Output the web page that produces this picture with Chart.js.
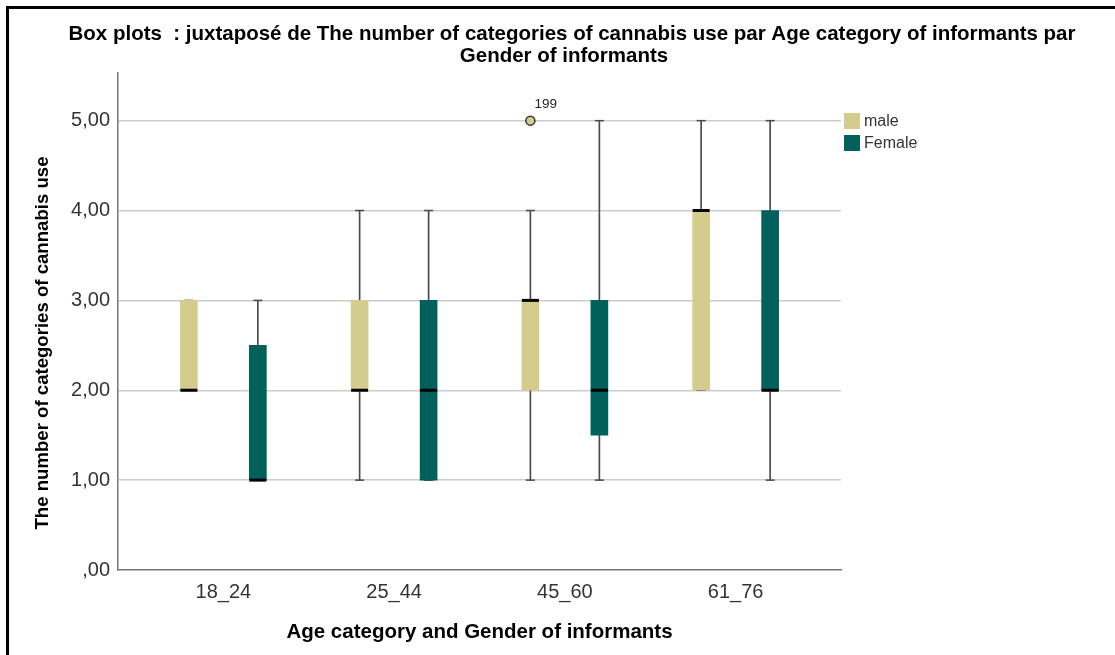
<!DOCTYPE html>
<html>
<head>
<meta charset="utf-8">
<script src="https://cdn.jsdelivr.net/npm/chart.js@4/dist/chart.umd.min.js"></script>
<style>
  html, body { margin: 0; padding: 0; background: #fff; overflow: hidden; }
  #frame { position: absolute; left: 6px; top: 6px; width: 2000px; height: 2000px;
           border-left: 3px solid #000; border-top: 3px solid #000; }
  #c { position: absolute; left: 0; top: 0; }
</style>
</head>
<body>
<div id="frame"></div>
<canvas id="c" width="1115" height="655"></canvas>
<script>
// Age groups on the x axis
const ageCategories = ['18_24', '25_44', '45_60', '61_76'];
const genderLabels = ['male', 'Female'];

// Five-number summaries per age group, male
const maleMin    = [2, 1, 1, 2];
const maleQ1     = [2, 2, 2, 2];
const maleMedian = [2, 2, 3, 4];
const maleQ3     = [3, 3, 3, 4];
const maleMax    = [3, 4, 4, 5];

// Five-number summaries per age group, female
const femaleMin    = [1, 1, 1, 1];
const femaleQ1     = [1, 1, 1.5, 2];
const femaleMedian = [1, 2, 2, 2];
const femaleQ3     = [2.5, 3, 3, 4];
const femaleMax    = [3, 4, 5, 5];

// Outlying cases
const outlierCategory = [2];
const outlierGender   = [0];
const outlierValue    = [5];
const outlierCase     = ['199'];

// y axis tick values
const yTicks = [0, 1, 2, 3, 4, 5];

const FONT = "'Liberation Sans', Arial, sans-serif";
const MALE_COLOR = '#D3CC8C';
const FEMALE_COLOR = '#00605B';
const WHISKER_COLOR = '#4a4a4a';
const groupOffset = [-0.202, 0.202];

function boxplotDatasets(g, mins, q1, med, q3, maxs, color) {
  const off = groupOffset[g];
  const xs = ageCategories.map((c, i) => i + off);
  return [
    { // whisker stem
      type: 'bar', label: '', order: 5, grouped: false, barThickness: 1,
      backgroundColor: WHISKER_COLOR,
      data: xs.map((x, i) => ({ x: x, y: [mins[i], maxs[i]] }))
    },
    { // whisker caps
      type: 'scatter', label: '', order: 4, pointStyle: 'line', pointRadius: 4.5,
      borderColor: WHISKER_COLOR, borderWidth: 1.5,
      data: xs.flatMap((x, i) => [{ x: x, y: mins[i] }, { x: x, y: maxs[i] }])
    },
    { // interquartile box
      type: 'bar', label: genderLabels[g], order: 3, grouped: false, barThickness: 17,
      backgroundColor: color, isBox: true,
      data: xs.map((x, i) => ({ x: x, y: [q1[i], q3[i]] }))
    },
    { // median line
      type: 'scatter', label: '', order: 2, pointStyle: 'line', pointRadius: 8.5,
      borderColor: '#000', borderWidth: 3,
      data: xs.map((x, i) => ({ x: x, y: med[i] }))
    }
  ];
}

const outlierDataset = {
  type: 'scatter', label: '', order: 1, pointStyle: 'circle', pointRadius: 4.5,
  backgroundColor: MALE_COLOR, borderColor: '#333', borderWidth: 1.5,
  data: outlierValue.map((v, k) => ({ x: outlierCategory[k] + groupOffset[outlierGender[k]], y: v }))
};

const datasets = [
  ...boxplotDatasets(0, maleMin, maleQ1, maleMedian, maleQ3, maleMax, MALE_COLOR),
  ...boxplotDatasets(1, femaleMin, femaleQ1, femaleMedian, femaleQ3, femaleMax, FEMALE_COLOR),
  outlierDataset
];

function commaFormat(v) {
  const s = Number(v).toFixed(2).replace('.', ',');
  return s.startsWith('0,') ? s.slice(1) : s;
}

// Titles, legend and case labels
const decorations = {
  id: 'decorations',
  afterDatasetsDraw(chart) {
    const ctx = chart.ctx;
    const xs = chart.scales.x, ys = chart.scales.y;
    ctx.save();
    // case number next to each outlier
    ctx.fillStyle = '#222';
    ctx.font = '13.5px ' + FONT;
    ctx.textAlign = 'left';
    ctx.textBaseline = 'middle';
    outlierDataset.data.forEach((p, k) => {
      ctx.fillText(outlierCase[k], xs.getPixelForValue(p.x) + 4, ys.getPixelForValue(p.y) - 16);
    });
    ctx.restore();
  },
  afterDraw(chart) {
    const ctx = chart.ctx;
    const area = chart.chartArea;
    ctx.save();
    ctx.fillStyle = '#000';
    ctx.textAlign = 'center';
    ctx.textBaseline = 'alphabetic';
    ctx.font = 'bold 20.5px ' + FONT;
    ctx.fillText('Box plots  : juxtaposé de The number of categories of cannabis use par Age category of informants par', 572, 40);
    ctx.fillText('Gender of informants', 564, 61.5);

    ctx.textBaseline = 'middle';
    ctx.font = 'bold 20.5px ' + FONT;
    ctx.fillText('Age category and Gender of informants', (area.left + area.right) / 2, 632);
    ctx.save();
    ctx.translate(43, 343);
    ctx.rotate(-Math.PI / 2);
    ctx.font = 'bold 18.6px ' + FONT;
    ctx.fillText('The number of categories of cannabis use', 0, 0);
    ctx.restore();

    // legend
    ctx.textAlign = 'left';
    ctx.font = '16px ' + FONT;
    const boxes = chart.data.datasets.filter(d => d.isBox);
    boxes.forEach((d, k) => {
      const y = 113 + k * 22;
      ctx.fillStyle = d.backgroundColor;
      ctx.fillRect(844, y, 16, 16);
      ctx.fillStyle = '#333';
      ctx.fillText(d.label, 864, y + 9);
    });
    ctx.restore();
  }
};

new Chart(document.getElementById('c'), {
  type: 'bar',
  data: { datasets: datasets },
  plugins: [decorations],
  options: {
    responsive: false,
    animation: false,
    layout: { padding: { top: 73, right: 274, bottom: 0, left: 0 } },
    plugins: { legend: { display: false }, tooltip: { enabled: false }, title: { display: false } },
    scales: {
      x: {
        type: 'linear', min: -0.617, max: 3.617, offset: false,
        afterBuildTicks: s => { s.ticks = ageCategories.map((c, i) => ({ value: i })); },
        afterFit: s => { s.height = 85; },
        ticks: { callback: v => ageCategories[v], font: { size: 20, family: FONT }, color: '#333', padding: 10, maxRotation: 0 },
        grid: { display: false, drawTicks: false, offset: false },
        border: { color: '#777', width: 1.5 }
      },
      y: {
        min: 0, max: 5.53,
        afterBuildTicks: s => { s.ticks = yTicks.map(v => ({ value: v })); },
        afterFit: s => { s.width = 118; },
        ticks: { callback: v => commaFormat(v), font: { size: 20, family: FONT }, color: '#333', padding: 8 },
        grid: { color: c => (c.tick && c.tick.value === 0) ? 'rgba(0,0,0,0)' : '#cccccc', lineWidth: 1.5, drawTicks: false },
        border: { color: '#777', width: 1.5 }
      }
    }
  }
});
</script>
</body>
</html>
